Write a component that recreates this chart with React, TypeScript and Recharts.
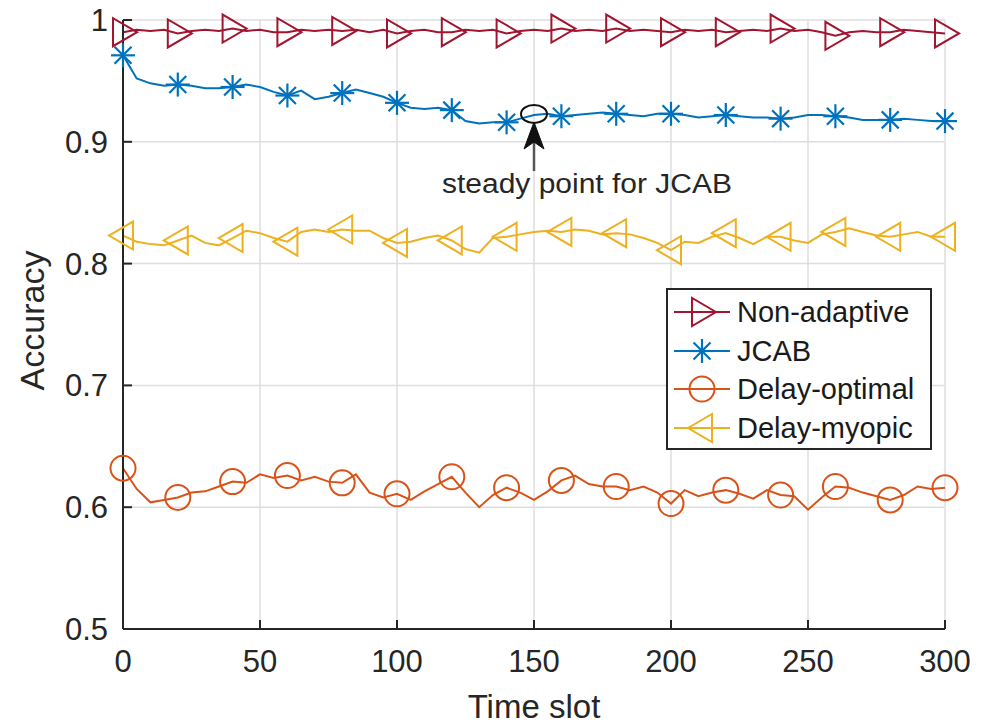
import { LineChart, Line, XAxis, YAxis, CartesianGrid, ReferenceDot } from 'recharts'

const TIME_SLOTS = [
  0, 5, 10, 15, 20, 25, 30, 35, 40, 45, 50, 55, 60, 65, 70, 75, 80, 85, 90, 95,
  100, 105, 110, 115, 120, 125, 130, 135, 140, 145, 150, 155, 160, 165, 170, 175, 180, 185, 190, 195,
  200, 205, 210, 215, 220, 225, 230, 235, 240, 245, 250, 255, 260, 265, 270, 275, 280, 285, 290, 295,
  300,
]

const NON_ADAPTIVE = [
  0.990, 0.992, 0.991, 0.992, 0.989, 0.991, 0.992, 0.991, 0.993, 0.991, 0.992, 0.990, 0.990, 0.992, 0.991, 0.992, 0.991, 0.992, 0.990, 0.992,
  0.989, 0.991, 0.992, 0.990, 0.990, 0.992, 0.991, 0.992, 0.989, 0.991, 0.992, 0.991, 0.993, 0.991, 0.992, 0.991, 0.993, 0.991, 0.992, 0.991,
  0.990, 0.992, 0.991, 0.992, 0.990, 0.991, 0.992, 0.991, 0.993, 0.991, 0.992, 0.990, 0.987, 0.990, 0.991, 0.990, 0.990, 0.992, 0.991, 0.990,
  0.989,
]

const JCAB = [
  0.971, 0.952, 0.948, 0.946, 0.947, 0.946, 0.944, 0.944, 0.945, 0.947, 0.945, 0.941, 0.938, 0.942, 0.935, 0.937, 0.940, 0.943, 0.940, 0.937,
  0.932, 0.928, 0.927, 0.928, 0.926, 0.917, 0.915, 0.916, 0.916, 0.919, 0.922, 0.923, 0.921, 0.922, 0.923, 0.924, 0.923, 0.922, 0.921, 0.923,
  0.923, 0.922, 0.920, 0.921, 0.922, 0.921, 0.920, 0.920, 0.919, 0.920, 0.922, 0.922, 0.921, 0.920, 0.918, 0.918, 0.918, 0.919, 0.918, 0.917,
  0.917,
]

const DELAY_OPTIMAL = [
  0.632, 0.615, 0.604, 0.606, 0.608, 0.612, 0.613, 0.617, 0.621, 0.620, 0.627, 0.624, 0.626, 0.622, 0.625, 0.621, 0.620, 0.627, 0.612, 0.608,
  0.611, 0.606, 0.613, 0.619, 0.625, 0.612, 0.600, 0.610, 0.616, 0.612, 0.606, 0.613, 0.622, 0.626, 0.619, 0.617, 0.617, 0.614, 0.617, 0.612,
  0.603, 0.614, 0.609, 0.612, 0.614, 0.611, 0.607, 0.614, 0.610, 0.609, 0.598, 0.608, 0.617, 0.616, 0.612, 0.609, 0.606, 0.610, 0.617, 0.615,
  0.616,
]

const DELAY_MYOPIC = [
  0.823, 0.818, 0.816, 0.815, 0.819, 0.823, 0.817, 0.815, 0.821, 0.827, 0.825, 0.821, 0.818, 0.826, 0.828, 0.826, 0.828, 0.827, 0.827, 0.821,
  0.817, 0.818, 0.821, 0.823, 0.819, 0.812, 0.809, 0.821, 0.822, 0.824, 0.826, 0.827, 0.826, 0.828, 0.827, 0.824, 0.825, 0.824, 0.821, 0.817,
  0.811, 0.818, 0.817, 0.822, 0.825, 0.821, 0.816, 0.822, 0.822, 0.819, 0.817, 0.824, 0.826, 0.829, 0.826, 0.823, 0.822, 0.824, 0.826, 0.822,
  0.822,
]

const X_TICKS = [0, 50, 100, 150, 200, 250, 300]
const Y_TICKS = [0.5, 0.6, 0.7, 0.8, 0.9, 1]
const MARKER_EVERY = 20
const STEADY_T = 150
const STEADY_ACC = 0.922

const FONT = '"Liberation Sans", Arial, Helvetica, sans-serif'
const INK = '#262626'

type MarkerKind = 'triRight' | 'asterisk' | 'circle' | 'triLeft'

const SERIES: { key: string; name: string; color: string; marker: MarkerKind }[] = [
  { key: 'nonAdaptive', name: 'Non-adaptive', color: '#a2142f', marker: 'triRight' },
  { key: 'jcab', name: 'JCAB', color: '#0072bd', marker: 'asterisk' },
  { key: 'delayOptimal', name: 'Delay-optimal', color: '#d95319', marker: 'circle' },
  { key: 'delayMyopic', name: 'Delay-myopic', color: '#edb120', marker: 'triLeft' },
]

const rows = TIME_SLOTS.map((t, i) => ({
  t,
  nonAdaptive: NON_ADAPTIVE[i],
  jcab: JCAB[i],
  delayOptimal: DELAY_OPTIMAL[i],
  delayMyopic: DELAY_MYOPIC[i],
}))

function Marker({ kind, cx, cy, color }: { kind: MarkerKind; cx: number; cy: number; color: string }) {
  const common = { fill: 'none', stroke: color, strokeWidth: 2 }
  if (kind === 'triRight') {
    return <polygon {...common} points={`${cx + 14},${cy} ${cx - 10},${cy - 14} ${cx - 10},${cy + 14}`} />
  }
  if (kind === 'triLeft') {
    return <polygon {...common} points={`${cx - 14},${cy} ${cx + 10},${cy - 14} ${cx + 10},${cy + 14}`} />
  }
  if (kind === 'circle') {
    return <circle {...common} cx={cx} cy={cy} r={12.5} />
  }
  const r = 12
  const d = r * 0.707
  return (
    <g {...common} strokeWidth={2.2}>
      <line x1={cx - r} y1={cy} x2={cx + r} y2={cy} />
      <line x1={cx} y1={cy - r} x2={cx} y2={cy + r} />
      <line x1={cx - d} y1={cy - d} x2={cx + d} y2={cy + d} />
      <line x1={cx - d} y1={cy + d} x2={cx + d} y2={cy - d} />
    </g>
  )
}

const markerDot = (kind: MarkerKind, color: string) => (props: any) => {
  const { cx, cy, payload, index } = props
  if (payload.t % MARKER_EVERY !== 0) return <g key={`m-${index}`} />
  return (
    <g key={`m-${index}`}>
      <Marker kind={kind} cx={cx} cy={cy} color={color} />
    </g>
  )
}

// MATLAB-style inward ticks
const BottomTick = ({ x, y, payload }: any) => (
  <g>
    <line x1={x} y1={y} x2={x} y2={y - 9} stroke={INK} strokeWidth={2} />
    <text x={x} y={y + 43} textAnchor="middle" fontSize={31} fill={INK} fontFamily={FONT}>
      {payload.value}
    </text>
  </g>
)

const LeftTick = ({ x, y, payload }: any) => (
  <g>
    <line x1={x} y1={y} x2={x + 9} y2={y} stroke={INK} strokeWidth={2} />
    <text x={x - 15} y={y + 11} textAnchor="end" fontSize={31} fill={INK} fontFamily={FONT}>
      {payload.value === 1 ? '1' : payload.value.toFixed(1)}
    </text>
  </g>
)

const TopTick = ({ x, y }: any) => <line x1={x} y1={y} x2={x} y2={y + 9} stroke={INK} strokeWidth={2} />
const RightTick = ({ x, y }: any) => <line x1={x} y1={y} x2={x - 9} y2={y} stroke={INK} strokeWidth={2} />

const XTitle = ({ viewBox }: any) => (
  <text
    x={viewBox.x + viewBox.width / 2}
    y={viewBox.y + 89}
    textAnchor="middle"
    fontSize={33}
    fill={INK}
    fontFamily={FONT}
  >
    Time slot
  </text>
)

const YTitle = ({ viewBox }: any) => (
  <text
    transform={`translate(44, ${viewBox.y + viewBox.height / 2 - 4}) rotate(-90)`}
    textAnchor="middle"
    fontSize={34}
    fill={INK}
    fontFamily={FONT}
  >
    Accuracy
  </text>
)

const SteadyMark = ({ cx, cy }: any) => (
  <g>
    <ellipse cx={cx} cy={cy - 1} rx={13} ry={9} fill="none" stroke="#111" strokeWidth={2} />
    <line x1={cx} y1={cy + 27} x2={cx} y2={cy + 56} stroke="#555" strokeWidth={2.5} />
    <polygon
      points={`${cx},${cy + 7} ${cx + 10},${cy + 34} ${cx},${cy + 27} ${cx - 10},${cy + 34}`}
      fill="#111"
      stroke="#111"
      strokeWidth={1}
    />
    <text
      x={cx + 53}
      y={cy + 78}
      textAnchor="middle"
      fontSize={27}
      fill={INK}
      fontFamily={FONT}
      textLength={290}
      lengthAdjust="spacingAndGlyphs"
    >
      steady point for JCAB
    </text>
  </g>
)

function LegendBox() {
  return (
    <div
      style={{
        position: 'absolute',
        left: 666,
        top: 288,
        width: 266,
        height: 162,
        border: `2px solid ${INK}`,
        background: '#fff',
        boxSizing: 'border-box',
        fontFamily: FONT,
      }}
    >
      {SERIES.map((s, i) => (
        <div
          key={s.key}
          style={{ position: 'absolute', left: 0, top: 3 + i * 38.7, height: 38, display: 'flex', alignItems: 'center' }}
        >
          <svg width={69} height={38} style={{ display: 'block' }}>
            <line x1={6} y1={19} x2={62} y2={19} stroke={s.color} strokeWidth={2} />
            <Marker kind={s.marker} cx={34} cy={19} color={s.color} />
          </svg>
          <span style={{ fontSize: 29, color: '#1a1a1a', lineHeight: '38px', whiteSpace: 'nowrap' }}>{s.name}</span>
        </div>
      ))}
    </div>
  )
}

export default function App() {
  return (
    <div style={{ position: 'absolute', left: 0, top: 0, width: 986, height: 724, background: '#fff' }}>
      <LineChart width={986} height={724} data={rows} margin={{ top: 20, right: 41, bottom: 0, left: 0 }}>
        <CartesianGrid stroke="#dedede" strokeWidth={1.5} horizontalValues={Y_TICKS} verticalValues={X_TICKS} />
        <XAxis
          dataKey="t"
          type="number"
          domain={[0, 300]}
          ticks={X_TICKS}
          height={95}
          tickSize={0}
          tickMargin={0}
          tickLine={false}
          axisLine={{ stroke: INK, strokeWidth: 2 }}
          tick={<BottomTick />}
          interval={0}
          label={<XTitle />}
        />
        <XAxis
          xAxisId="top"
          orientation="top"
          dataKey="t"
          type="number"
          domain={[0, 300]}
          ticks={X_TICKS}
          height={0}
          tickSize={0}
          tickMargin={0}
          tickLine={false}
          axisLine={{ stroke: INK, strokeWidth: 2 }}
          tick={<TopTick />}
          interval={0}
        />
        <YAxis
          type="number"
          domain={[0.5, 1]}
          ticks={Y_TICKS}
          width={123}
          tickSize={0}
          tickMargin={0}
          tickLine={false}
          axisLine={{ stroke: INK, strokeWidth: 2 }}
          tick={<LeftTick />}
          interval={0}
          label={<YTitle />}
        />
        <YAxis
          yAxisId="right"
          orientation="right"
          type="number"
          domain={[0.5, 1]}
          ticks={Y_TICKS}
          width={0}
          tickSize={0}
          tickMargin={0}
          tickLine={false}
          axisLine={{ stroke: INK, strokeWidth: 2 }}
          tick={<RightTick />}
          interval={0}
        />
        {SERIES.map((s) => (
          <Line
            key={s.key}
            type="linear"
            dataKey={s.key}
            name={s.name}
            stroke={s.color}
            strokeWidth={2}
            dot={markerDot(s.marker, s.color)}
            activeDot={false}
            isAnimationActive={false}
          />
        ))}
        <ReferenceDot x={STEADY_T} y={STEADY_ACC} ifOverflow="visible" shape={<SteadyMark />} />
      </LineChart>
      <LegendBox />
    </div>
  )
}
